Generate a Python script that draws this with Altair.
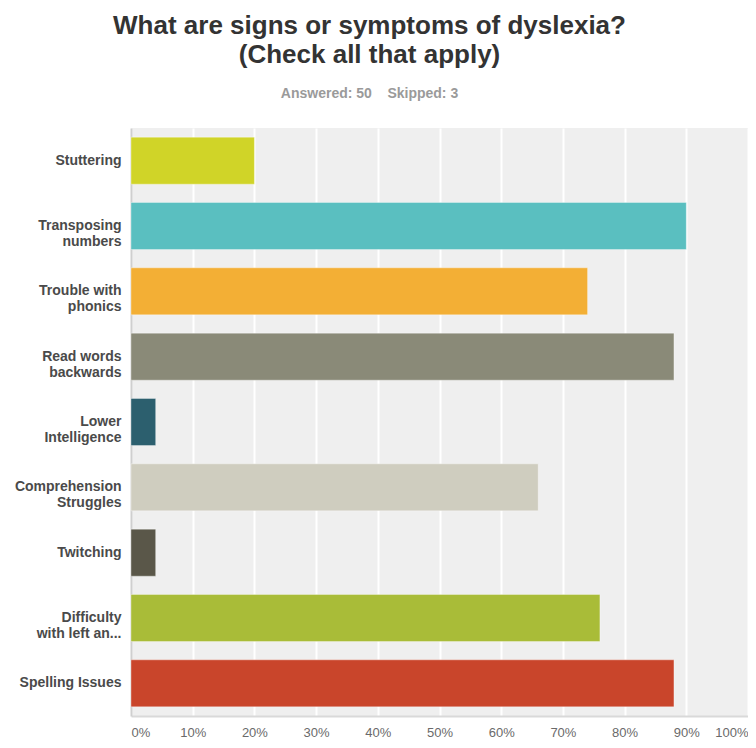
import altair as alt
import pandas as pd

categories = [
    "Stuttering",
    "Transposing\nnumbers",
    "Trouble with\nphonics",
    "Read words\nbackwards",
    "Lower\nIntelligence",
    "Comprehension\nStruggles",
    "Twitching",
    "Difficulty\nwith left an...",
    "Spelling Issues",
]
values = [20, 90, 74, 88, 4, 66, 4, 76, 88]
colors = ["#d0d428", "#5abfc0", "#f3af35", "#8a8a78", "#2c5f6e",
          "#cfcdbf", "#5a5749", "#a9bc38", "#c9452b"]
x_ticks = [0, 10, 20, 30, 40, 50, 60, 70, 80, 90, 100]

df = pd.DataFrame({"cat": categories, "val": values, "color": colors})

chart = alt.Chart(df).mark_bar(
    stroke="#ffffff", strokeOpacity=0.35, strokeWidth=1
).encode(
    y=alt.Y(
        "cat:N",
        sort=categories,
        title=None,
        scale=alt.Scale(paddingInner=0.28, paddingOuter=0.14),
        axis=alt.Axis(
            labelExpr="split(datum.label, '\\n')",
            labelFont="Liberation Sans",
            labelFontWeight="bold",
            labelFontSize=14,
            labelColor="#4a4a4a",
            labelLineHeight=16,
            labelPadding=10,
            ticks=False,
            domainColor="#cfcfcf",
            domainWidth=2,
            grid=False,
            labelLimit=200,
        ),
    ),
    x=alt.X(
        "val:Q",
        title=None,
        scale=alt.Scale(domain=[0, 100], nice=False),
        axis=alt.Axis(
            values=x_ticks,
            labelExpr="datum.value + '%'",
            labelFlush=True,
            labelFont="Liberation Sans",
            labelFontSize=13,
            labelColor="#6a6a6a",
            labelPadding=10,
            ticks=False,
            domainColor="#d9d9d9",
            domainWidth=2,
            gridColor="#ffffff",
            gridWidth=2,
        ),
    ),
    color=alt.Color("color:N", scale=None, legend=None),
).properties(
    width=617,
    height=588,
    autosize=alt.AutoSizeParams(type="none"),
    padding={"left": 123, "top": 120, "right": 0, "bottom": 24},
    title=alt.TitleParams(
        text=["What are signs or symptoms of dyslexia?", "(Check all that apply)"],
        subtitle="Answered: 50\u00a0\u00a0\u00a0\u00a0Skipped: 3",
        font="Liberation Sans",
        fontSize=26,
        fontWeight="bold",
        color="#333333",
        lineHeight=29,
        subtitleFont="Liberation Sans",
        subtitleFontSize=14,
        subtitleFontWeight="bold",
        subtitleColor="#9a9a9a",
        subtitlePadding=19,
        anchor="middle",
        dx=-70,
        offset=27,
    ),
).configure_view(
    fill="#efefef", stroke=None
)

chart.save("out.html", embed_options={"renderer": "svg", "actions": False})
